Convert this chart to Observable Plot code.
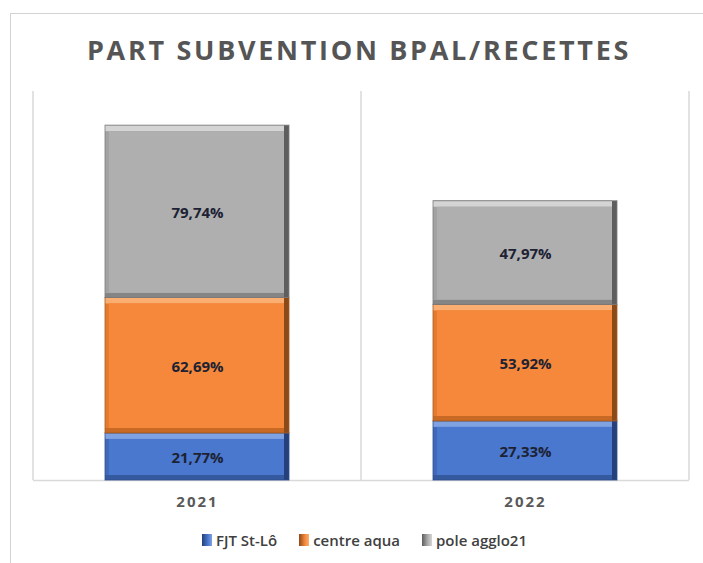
<!DOCTYPE html>
<html>
<head>
<meta charset="utf-8">
<script src="https://cdn.jsdelivr.net/npm/d3@7"></script>
<script src="https://cdn.jsdelivr.net/npm/@observablehq/plot@0.6"></script>
<style>
  html, body { margin: 0; padding: 0; background: #ffffff; overflow: hidden; }
  #wrap { position: relative; width: 703px; height: 563px; overflow: hidden; font-family: "Open Sans", "DejaVu Sans", sans-serif; }
  #frame { position: absolute; left: 10px; top: 13px; width: 760px; height: 620px; border-left: 1px solid #d2d2d2; border-top: 1px solid #d2d2d2; box-sizing: border-box; }
  #title { position: relative; height: 80px; width: 718px; box-sizing: border-box; padding-top: 36px; text-align: center; font-size: 27px; line-height: 27px; font-weight: 700; letter-spacing: 2.7px; color: #555555; }
  #chart { position: relative; height: 440px; }
  #legend { position: relative; height: 40px; display: flex; justify-content: center; align-items: center; padding-left: 26px; gap: 22px; font-size: 15px; font-weight: 600; color: #404040; }
  .item { display: flex; align-items: center; gap: 4px; }
  .sw { width: 10px; height: 12px; display: inline-block; }
</style>
</head>
<body>
<div id="wrap">
  <div id="frame"></div>
  <div id="title">PART SUBVENTION BPAL/RECETTES</div>
  <div id="chart"></div>
  <div id="legend"></div>
</div>
<script>
// ---- data ----
const years = ["2021", "2022"];
const seriesNames = ["FJT St-Lô", "centre aqua", "pole agglo21"];
const fjtStLo = [21.77, 27.33];
const centreAqua = [62.69, 53.92];
const poleAgglo21 = [79.74, 47.97];
const yMax = 180;

// ---- styles (bevel shades per series) ----
const shades = {
  "FJT St-Lô":    {main: "#4A78CE", light: "#7FA2E2", left: "#4169B9", bottom: "#34599E", dark: "#25407A", edge: "#2E4E8C"},
  "centre aqua":  {main: "#F5883A", light: "#FAAE72", left: "#E57B2F", bottom: "#C86A24", dark: "#8C4A19", edge: "#A65A1F"},
  "pole agglo21": {main: "#AFAFAF", light: "#D4D4D4", left: "#A2A2A2", bottom: "#858585", dark: "#5E5E5E", edge: "#7A7A7A"}
};

// ---- build stacked table ----
const seriesValues = [fjtStLo, centreAqua, poleAgglo21];
const rows = [];
years.forEach((year, i) => {
  let acc = 0;
  seriesNames.forEach((s, k) => {
    const v = seriesValues[k][i];
    rows.push({year, series: s, value: v, y1: acc, y2: acc + v});
    acc += v;
  });
});

const fmt = v => v.toFixed(2).replace(".", ",") + "%";

// category separators (Excel vertical gridlines between categories)
function separators(index, scales, values, dimensions) {
  const {width, height, marginLeft, marginRight, marginTop, marginBottom} = dimensions;
  const g = d3.create("svg:g");
  const n = years.length;
  for (let i = 0; i <= n; i++) {
    const x = marginLeft + i * (width - marginLeft - marginRight) / n;
    g.append("line")
      .attr("x1", x).attr("x2", x)
      .attr("y1", marginTop).attr("y2", height - marginBottom)
      .attr("stroke", "#d9d9d9").attr("stroke-width", 1.5);
  }
  return g.node();
}

const layers = [
  {key: "dark",   inset: {}},
  {key: "bottom", inset: {insetRight: 5}},
  {key: "light",  inset: {insetRight: 5, insetBottom: 5}},
  {key: "left",   inset: {insetRight: 5, insetBottom: 5, insetTop: 6}},
  {key: "main",   inset: {insetRight: 5, insetBottom: 5, insetTop: 6, insetLeft: 4}}
];

const barMarks = seriesNames.flatMap(s => {
  const data = rows.filter(r => r.series === s);
  return [
    ...layers.map(L => Plot.barY(data, {
      x: "year", y1: "y1", y2: "y2", fill: shades[s][L.key], ...L.inset
    })),
    Plot.barY(data, {x: "year", y1: "y1", y2: "y2", fill: "none", stroke: shades[s].edge, strokeWidth: 1, strokeOpacity: 0.8})
  ];
});

const plot = Plot.plot({
  width: 703,
  height: 440,
  marginLeft: 33,
  marginRight: 14,
  marginTop: 11,
  marginBottom: 40,
  style: {background: "transparent", fontFamily: "'Open Sans', sans-serif"},
  x: {domain: years, paddingInner: 0.44, paddingOuter: 0.22, tickSize: 0, tickPadding: 16, label: null},
  y: {domain: [0, yMax], axis: null},
  marks: [
    separators,
    Plot.ruleY([0], {stroke: "#d9d9d9", strokeWidth: 1.5}),
    ...barMarks,
    Plot.text(rows, {
      x: "year", y: d => (d.y1 + d.y2) / 2, text: d => fmt(d.value),
      fontSize: 15, fontWeight: "bold", fill: "#1c2233", dy: 1
    })
  ]
});

// style x-axis tick labels
d3.select(plot).selectAll('[aria-label^="x-axis"] text')
  .attr("font-size", 15).attr("font-weight", "bold")
  .attr("fill", "#595959").style("letter-spacing", "2px");

document.getElementById("chart").appendChild(plot);

// legend
const legend = d3.select("#legend");
seriesNames.forEach(s => {
  const it = legend.append("div").attr("class", "item");
  it.append("span").attr("class", "sw")
    .style("background", `linear-gradient(90deg, ${shades[s].dark} 0%, ${shades[s].main} 60%, ${shades[s].light} 100%)`);
  it.append("span").text(s);
});
</script>
</body>
</html>
